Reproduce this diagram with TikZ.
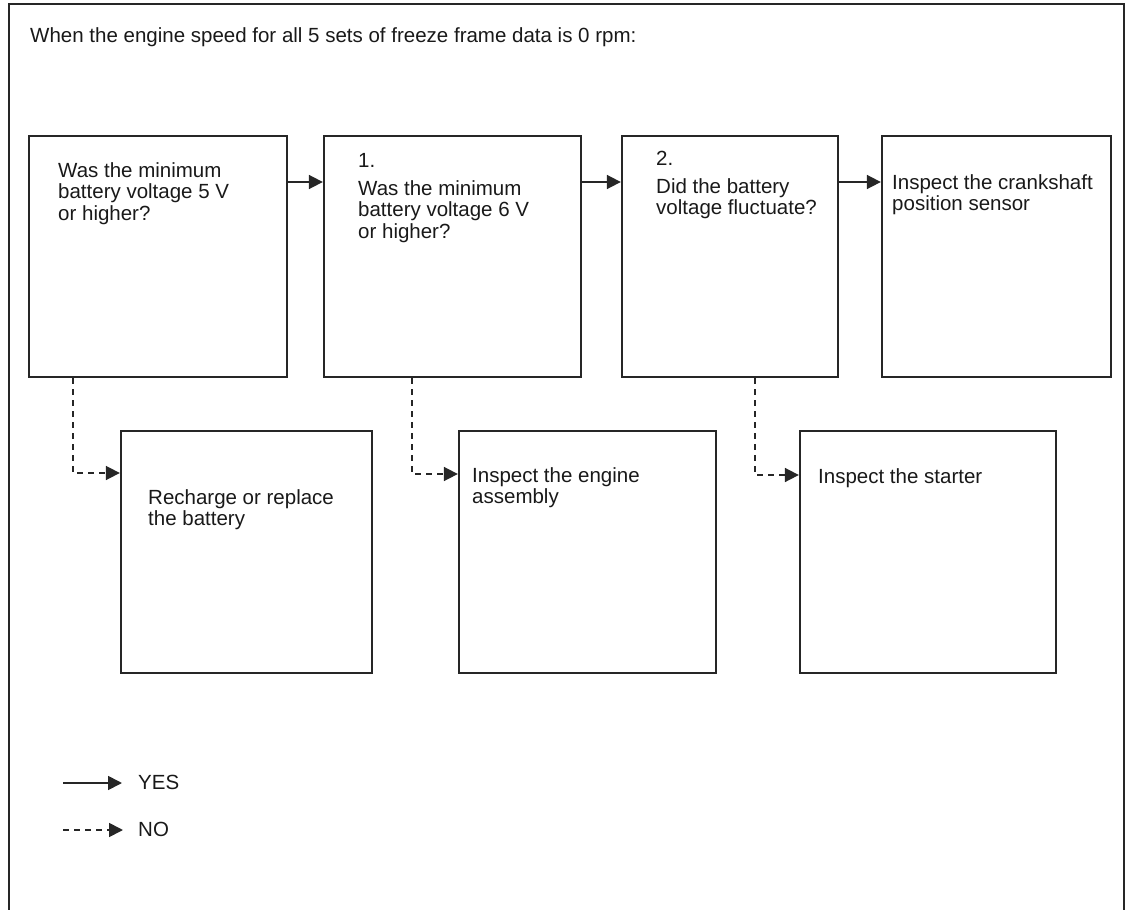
\documentclass[tikz,border=0pt]{standalone}
\usepackage{fontspec}
\setmainfont{Liberation Sans}
\usetikzlibrary{arrows.meta}
\begin{document}
\begin{tikzpicture}[x=1pt,y=-1pt,
  box/.style={draw=black!85, line width=2.3pt, inner sep=0pt, minimum height=241pt},
  txt/.style={anchor=north west, inner sep=0pt, align=left, text=black!90,
              font=\fontsize{20.5}{21.5}\selectfont},
  yesline/.style={draw=black!85, line width=1.7pt, -{Triangle[length=14pt,width=14pt]}},
  noline/.style={draw=black!85, line width=1.7pt, dash pattern=on 6pt off 5pt,
                 -{Triangle[length=14pt,width=14pt]}}]
\useasboundingbox (0,0) rectangle (1128,910);
% frame (open at the bottom)
\draw[black!85, line width=2.3pt] (9,910) -- (9,4) -- (1124,4) -- (1124,910);
% title
\node[txt] (title) at (30,27.3) {When the engine speed for all 5 sets of freeze frame data is 0 rpm:};
% top row boxes
\node[box, minimum width=258pt] (A) at (158,256.5) {};
\node[box, minimum width=257pt] (B) at (452.5,256.5) {};
\node[box, minimum width=216pt] (C) at (730,256.5) {};
\node[box, minimum width=229pt] (D) at (996.5,256.5) {};
% bottom row boxes
\node[box, minimum width=251pt, minimum height=242pt] (E) at (246.5,552) {};
\node[box, minimum width=257pt, minimum height=242pt] (F) at (587.5,552) {};
\node[box, minimum width=256pt, minimum height=242pt] (G) at (928,552) {};
% texts
\node[txt] (tA) at (58,162.3) {Was the minimum\\battery voltage 5 V\\or higher?};
\node[txt] (tB) at (358,153.3) {1.\\[6pt]Was the minimum\\battery voltage 6 V\\or higher?};
\node[txt] (tC) at (656,151.3) {2.\\[6pt]Did the battery\\voltage fluctuate?};
\node[txt] (tD) at (892,174.3) {Inspect the crankshaft\\position sensor};
\node[txt] (tE) at (148,489.3) {Recharge or replace\\the battery};
\node[txt] (tF) at (472,467.3) {Inspect the engine\\assembly};
\node[txt] (tG) at (818,468.3) {Inspect the starter};
% yes connectors
\coordinate (r1) at (0,182);
\draw[yesline] (A.east |- r1) -- (B.west |- r1);
\draw[yesline] (B.east |- r1) -- (C.west |- r1);
\draw[yesline] (C.east |- r1) -- (D.west |- r1);
% no connectors
\coordinate (nA) at (73,473);
\coordinate (nB) at (412,474);
\coordinate (nC) at (755,475);
\draw[noline] (A.south -| nA) -- (nA) -- (E.west |- nA);
\draw[noline] (B.south -| nB) -- (nB) -- (F.west |- nB);
\draw[noline] (C.south -| nC) -- (nC) -- (G.west |- nC);
% legend
\coordinate (ys) at (63,783);
\coordinate (ye) at (122,783);
\coordinate (ns) at (63,830);
\coordinate (ne) at (123,830);
\draw[yesline] (ys) -- (ye);
\draw[noline] (ns) -- (ne);
\node[txt] (lyes) at (138,775.3) {YES};
\node[txt] (lno) at (138,822.3) {NO};
\end{tikzpicture}
\end{document}
